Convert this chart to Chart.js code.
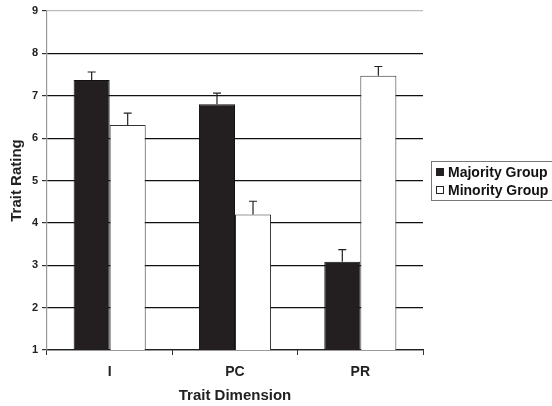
<!DOCTYPE html>
<html>
<head>
<meta charset="utf-8">
<script src="https://cdn.jsdelivr.net/npm/chart.js@4"></script>
<style>
  html, body { margin: 0; padding: 0; background: #fff; }
  #wrap { width: 552px; height: 406px; }
</style>
</head>
<body>
<div id="wrap"><canvas id="graph"></canvas></div>
<script>
var categories = ['I', 'PC', 'PR'];
var majorityValues = [7.37, 6.80, 3.08];
var minorityValues = [6.31, 4.20, 7.47];
// top of each error bar
var majorityErrTop = [7.56, 7.06, 3.37];
var minorityErrTop = [6.59, 4.51, 7.69];
var yTicks = [1, 2, 3, 4, 5, 6, 7, 8, 9];

var FONT = '"Liberation Sans", Arial, sans-serif';

// draws the upward error bars with a small cap
var errorBars = {
    id: 'errorBars',
    afterDatasetsDraw: function(chart) {
        var ctx = chart.ctx;
        var y = chart.scales.y;
        ctx.save();
        ctx.strokeStyle = '#222';
        ctx.lineWidth = 1.2;
        chart.data.datasets.forEach(function(ds, di) {
            var meta = chart.getDatasetMeta(di);
            meta.data.forEach(function(bar, i) {
                var yTop = y.getPixelForValue(ds.errTop[i]);
                var yVal = y.getPixelForValue(ds.data[i]);
                ctx.beginPath();
                ctx.moveTo(bar.x, yVal);
                ctx.lineTo(bar.x, yTop);
                ctx.moveTo(bar.x - 4, yTop);
                ctx.lineTo(bar.x + 4, yTop);
                ctx.stroke();
            });
        });
        ctx.restore();
    }
};

// boxed legend to the right of the plot, like the original
var boxLegend = {
    id: 'boxLegend',
    afterDraw: function(chart) {
        var ctx = chart.ctx;
        var left = 431, top = 161, w = 130, h = 39;
        ctx.save();
        ctx.fillStyle = '#fff';
        ctx.fillRect(left, top, w, h);
        ctx.strokeStyle = '#777';
        ctx.lineWidth = 1;
        ctx.strokeRect(left + 0.5, top + 0.5, w, h);
        ctx.font = 'bold 14px ' + FONT;
        ctx.textBaseline = 'middle';
        chart.data.datasets.forEach(function(ds, i) {
            var cy = top + 11 + i * 18;
            ctx.fillStyle = ds.backgroundColor;
            ctx.fillRect(436, cy - 4, 8, 8);
            ctx.strokeStyle = '#222';
            ctx.strokeRect(436.5, cy - 3.5, 7, 7);
            ctx.fillStyle = '#111';
            ctx.fillText(ds.label, 448, cy + 1);
        });
        ctx.restore();
    }
};

var ctx = document.getElementById('graph');
var chart = new Chart(ctx, {
    type: 'bar',
    data: {
        labels: categories,
        datasets: [
            {
                label: 'Majority Group',
                data: majorityValues,
                errTop: majorityErrTop,
                backgroundColor: '#231f20',
                borderColor: '#111',
                borderWidth: 1,
                borderSkipped: 'bottom'
            },
            {
                label: 'Minority Group',
                data: minorityValues,
                errTop: minorityErrTop,
                backgroundColor: '#ffffff',
                borderColor: '#333',
                borderWidth: 1,
                borderSkipped: 'bottom'
            }
        ]
    },
    plugins: [errorBars, boxLegend],
    options: {
        responsive: true,
        maintainAspectRatio: false,
        animation: false,
        devicePixelRatio: 1,
        layout: { padding: { top: 11, right: 129, left: 8, bottom: 0 } },
        categoryPercentage: 0.575,
        barPercentage: 1.0,
        plugins: {
            legend: { display: false },
            tooltip: { enabled: false }
        },
        scales: {
            x: {
                afterFit: function(scale) { scale.height = 56; },
                grid: {
                    offset: true,
                    drawOnChartArea: false,
                    drawTicks: true,
                    tickLength: 5,
                    color: '#333'
                },
                border: { color: '#222', width: 1.2 },
                ticks: {
                    color: '#222',
                    padding: 9,
                    font: { family: FONT, size: 14, weight: 'bold' }
                },
                title: {
                    display: true,
                    text: 'Trait Dimension',
                    color: '#222',
                    padding: { top: 8, bottom: 1 },
                    font: { family: FONT, size: 15, weight: 'bold' }
                }
            },
            y: {
                min: 1,
                max: 9,
                afterBuildTicks: function(scale) {
                    scale.ticks = yTicks.map(function(v) { return { value: v }; });
                },
                afterFit: function(scale) { scale.width = 39; },
                grid: {
                    color: function(c) {
                        if (c.tick.value === 9) return '#bbb';
                        return '#111';
                    },
                    tickColor: '#333',
                    tickLength: 5,
                    lineWidth: 1.2
                },
                border: { color: '#999', width: 1.2 },
                ticks: {
                    color: '#222',
                    padding: 4,
                    font: { family: FONT, size: 11, weight: 'bold' }
                },
                title: {
                    display: true,
                    text: 'Trait Rating',
                    color: '#222',
                    padding: 0,
                    font: { family: FONT, size: 15, weight: 'bold' }
                }
            }
        }
    }
});
</script>
</body>
</html>
